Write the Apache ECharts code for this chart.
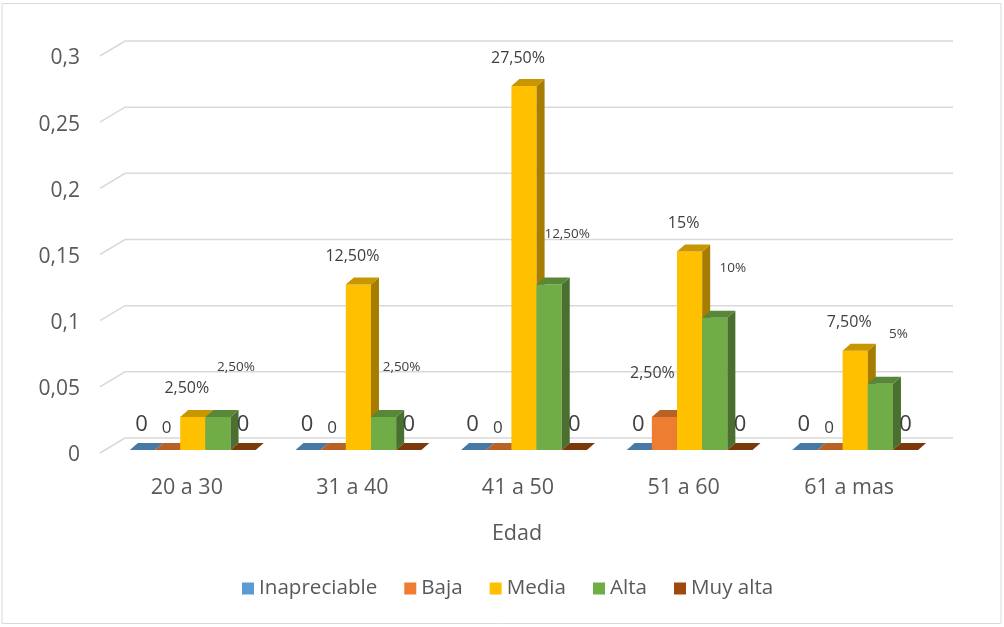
<!DOCTYPE html>
<html>
<head>
<meta charset="utf-8">
<script src="https://cdn.jsdelivr.net/npm/echarts@6/dist/echarts.min.js"></script>
<style>
  html, body { margin: 0; padding: 0; background: #fff; }
  #chart { width: 1004px; height: 627px; }
</style>
</head>
<body>
<div id="chart"></div>
<script>
// datos (fraccion del total)
const categories = ['20 a 30', '31 a 40', '41 a 50', '51 a 60', '61 a mas']
const inapreciable = [0, 0, 0, 0, 0]
const baja = [0, 0, 0, 0.025, 0]
const media = [0.025, 0.125, 0.275, 0.15, 0.075]
const alta = [0.025, 0.025, 0.125, 0.1, 0.05]
const muyAlta = [0, 0, 0, 0, 0]
const yTicks = [0, 0.05, 0.1, 0.15, 0.2, 0.25, 0.3]

const FONT = '"Open Sans", sans-serif'
const AXIS_COLOR = '#595959'
const LABEL_COLOR = '#404040'
const DEPTH_X = 8
const DEPTH_Y = -7

// estilo de las etiquetas por serie (desplazamientos respecto al tope de la barra)
const seriesDefs = [
    { name: 'Inapreciable', values: inapreciable, color: '#5B9BD5',
      zero: { size: 22, dx: -1, dy: -25 }, label: { size: 16, dx: 0, dy: -28 } },
    { name: 'Baja', values: baja, color: '#ED7D31',
      zero: { size: 17, dx: -1, dy: -22 }, label: { size: 16, dx: -12, dy: -43 } },
    { name: 'Media', values: media, color: '#FFC000',
      zero: { size: 17, dx: 0, dy: -22 }, label: { size: 16, dx: -6, dy: -28 } },
    { name: 'Alta', values: alta, color: '#70AD47',
      zero: { size: 17, dx: 0, dy: -22 }, label: { size: 13.5, dx: 18, dy: -50 } },
    { name: 'Muy alta', values: muyAlta, color: '#9E480E',
      zero: { size: 22, dx: 0, dy: -25 }, label: { size: 16, dx: 0, dy: -28 } }
]

function pct(v) {
    if (v === 0) return '0'
    const p = Math.round(v * 10000) / 100
    return Number.isInteger(p) ? p + '%' : p.toFixed(2).replace('.', ',') + '%'
}

// oscurece un color hex multiplicando sus canales
function shade(hex, f) {
    const n = parseInt(hex.slice(1), 16)
    const r = Math.round(((n >> 16) & 255) * f)
    const g = Math.round(((n >> 8) & 255) * f)
    const b = Math.round((n & 255) * f)
    return 'rgb(' + r + ',' + g + ',' + b + ')'
}

function barRender(k, def) {
    const top = shade(def.color, 0.78)
    const side = shade(def.color, 0.65)
    return function (params, api) {
        const idx = api.value(0)
        const v = api.value(1)
        const base = api.coord([idx, 0])
        const band = api.size([1, 0])[0]
        const w = band * 0.152
        const x0 = base[0] - 2.5 * w + k * w
        const yBase = base[1]
        const yTop = api.coord([idx, v])[1]
        const children = []
        if (v > 0) {
            children.push({
                type: 'rect',
                shape: { x: x0, y: yTop, width: w, height: yBase - yTop },
                style: { fill: def.color }
            })
            children.push({
                type: 'polygon',
                shape: { points: [[x0 + w, yTop], [x0 + w + DEPTH_X, yTop + DEPTH_Y],
                    [x0 + w + DEPTH_X, yBase + DEPTH_Y], [x0 + w, yBase]] },
                style: { fill: side }
            })
        }
        children.push({
            type: 'polygon',
            shape: { points: [[x0, yTop], [x0 + w, yTop],
                [x0 + w + DEPTH_X, yTop + DEPTH_Y], [x0 + DEPTH_X, yTop + DEPTH_Y]] },
            style: { fill: top }
        })
        const lb = v === 0 ? def.zero : def.label
        children.push({
            type: 'text',
            z2: 10,
            style: {
                text: pct(v),
                x: x0 + w / 2 + lb.dx,
                y: yTop + lb.dy,
                align: 'center',
                verticalAlign: 'middle',
                fontFamily: FONT,
                fontSize: lb.size,
                fill: LABEL_COLOR
            }
        })
        return { type: 'group', children: children }
    }
}

function gridRender(params, api) {
    const cs = params.coordSys
    const y = api.coord([0, api.value(1)])[1]
    return {
        type: 'polyline',
        shape: { points: [[cs.x - 10, y + 3], [cs.x + 15, y - 12], [cs.x + cs.width + 15, y - 12]] },
        style: { stroke: '#D9D9D9', lineWidth: 1.5, fill: null }
    }
}

const chart = echarts.init(document.getElementById('chart'))

const option = {
    animation: false,
    backgroundColor: '#fff',
    textStyle: { fontFamily: FONT },
    graphic: [{
        type: 'rect',
        silent: true,
        shape: { x: 2, y: 3.5, width: 999, height: 620 },
        style: { fill: null, stroke: '#D9D9D9', lineWidth: 1 }
    }],
    grid: { left: 110, right: 66, top: 53, bottom: 177 },
    legend: {
        data: seriesDefs.map(d => d.name),
        top: 573,
        left: 237,
        icon: 'rect',
        itemWidth: 12,
        itemHeight: 12,
        itemGap: 27,
        textStyle: { fontFamily: FONT, fontSize: 20.6, color: AXIS_COLOR }
    },
    xAxis: {
        type: 'category',
        data: categories,
        axisLine: { show: false },
        axisTick: { show: false },
        axisLabel: { fontSize: 21.5, color: AXIS_COLOR, margin: 27, padding: [0, 12, 0, 0] },
        name: 'Edad',
        nameLocation: 'middle',
        nameGap: 73,
        nameTextStyle: { fontSize: 21.5, color: AXIS_COLOR, padding: [0, 14, 0, 0] }
    },
    yAxis: {
        type: 'value',
        min: 0,
        max: 0.3,
        interval: 0.05,
        splitLine: { show: false },
        axisLine: { show: false },
        axisTick: { show: false },
        axisLabel: {
            fontSize: 21,
            color: AXIS_COLOR,
            margin: 30,
            verticalAlign: 'top',
            lineHeight: 11,
            formatter: v => String(+v.toFixed(2)).replace('.', ',')
        }
    },
    series: [{
        name: 'grid',
        type: 'custom',
        silent: true,
        z: 1,
        renderItem: gridRender,
        data: yTicks.map(v => [0, v])
    }].concat(seriesDefs.map((d, k) => ({
        name: d.name,
        type: 'custom',
        z: 2,
        itemStyle: { color: d.color },
        renderItem: barRender(k, d),
        data: d.values.map((v, i) => [i, v])
    })))
}

chart.setOption(option)
window.addEventListener('resize', () => chart.resize())
</script>
</body>
</html>
